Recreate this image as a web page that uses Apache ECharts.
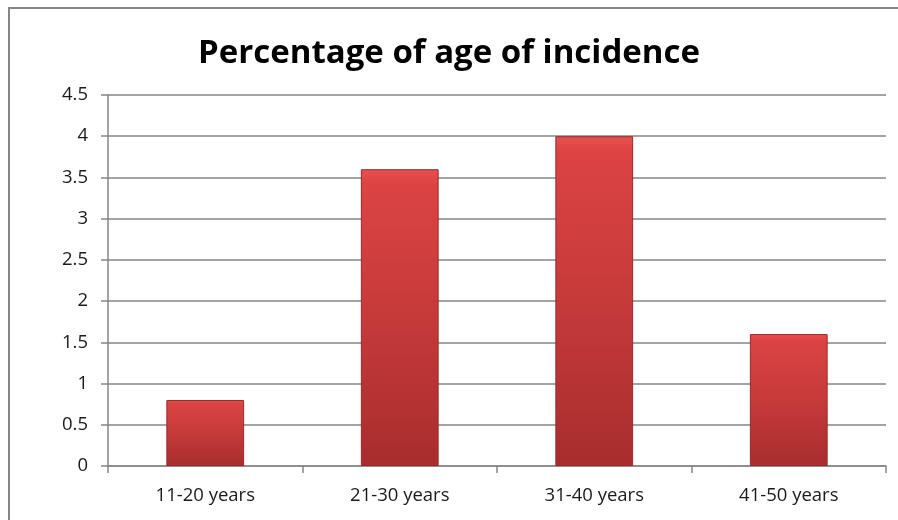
<!DOCTYPE html>
<html><head><meta charset="utf-8">
<script src="https://cdn.jsdelivr.net/npm/echarts@6/dist/echarts.min.js"></script>
<style>html,body{margin:0;padding:0;background:#fff;overflow:hidden}#c{width:898px;height:520px;position:relative}
#frame{position:absolute;left:8px;top:7px;width:2000px;height:2000px;border-left:2px solid #868686;border-top:2px solid #868686;pointer-events:none}</style>
</head><body><div id="c"></div><div id="frame"></div>
<script>
const categories = ['11-20 years', '21-30 years', '31-40 years', '41-50 years'];
const values = [0.8, 3.6, 4.0, 1.6];
const titleText = 'Percentage of age of incidence';

const chart = echarts.init(document.getElementById('c'), null, {renderer: 'canvas'});
chart.setOption({
  backgroundColor: '#fff',
  animation: false,
  title: {
    text: titleText, left: 'center', top: 32,
    textStyle: {fontFamily: 'Open Sans', fontWeight: 'bold', fontSize: 33, color: '#000'}
  },
  grid: {left: 108, right: 12, top: 95, bottom: 54, containLabel: false},
  xAxis: {
    type: 'category', data: categories,
    axisLine: {lineStyle: {color: '#868686', width: 1.5}},
    axisTick: {show: true, length: 7, lineStyle: {color: '#868686', width: 1.5}},
    axisLabel: {color: '#1a1a1a', fontFamily: 'Open Sans', fontSize: 18.5, margin: 20}
  },
  yAxis: {
    type: 'value', min: 0, max: 4.5, interval: 0.5,
    axisLine: {show: true, lineStyle: {color: '#868686', width: 1.5}},
    axisTick: {show: true, length: 7, lineStyle: {color: '#868686', width: 1.5}},
    splitLine: {lineStyle: {color: '#868686', width: 1.5}},
    axisLabel: {color: '#1a1a1a', fontFamily: 'Open Sans', fontSize: 18.5, margin: 20}
  },
  series: [{
    type: 'bar', data: values, barWidth: '40%',
    itemStyle: {
      color: new echarts.graphic.LinearGradient(0, 0, 0, 1, [
        {offset: 0, color: '#e85050'},
        {offset: 0.05, color: '#dc4343'},
        {offset: 0.5, color: '#c63a3a'},
        {offset: 1, color: '#a82d2d'}
      ]),
      borderColor: '#9a2a2a', borderWidth: 1
    }
  }]
});
</script></body></html>
